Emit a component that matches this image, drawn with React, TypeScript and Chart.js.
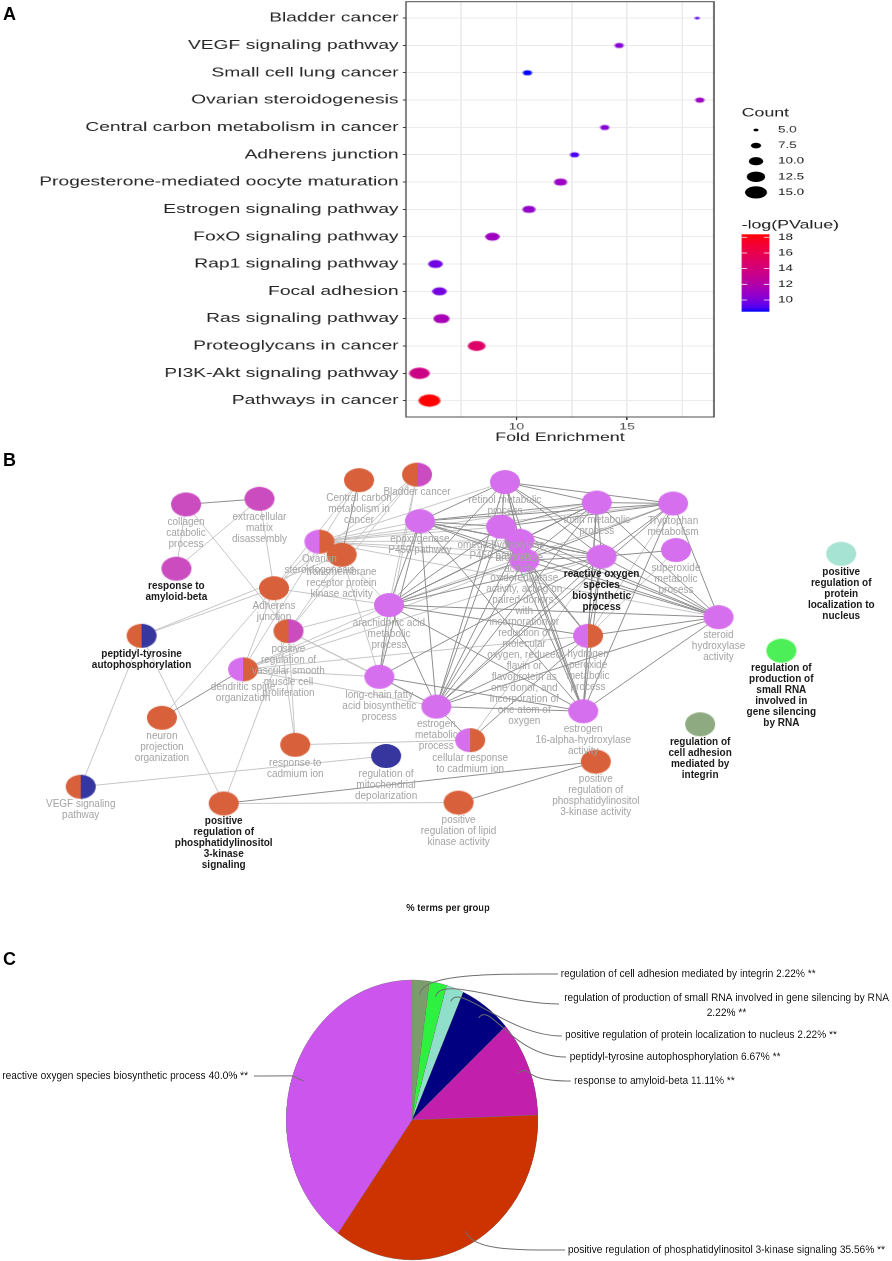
import React, { useEffect, useRef } from 'react';
import { Chart, registerables } from 'chart.js';

Chart.register(...registerables);
Chart.defaults.font.family = '"Liberation Sans", Arial, Helvetica, sans-serif';

// ---------------- Panel A data (KEGG bubble chart) ----------------
const pathways = [
  'Bladder cancer',
  'VEGF signaling pathway',
  'Small cell lung cancer',
  'Ovarian steroidogenesis',
  'Central carbon metabolism in cancer',
  'Adherens junction',
  'Progesterone-mediated oocyte maturation',
  'Estrogen signaling pathway',
  'FoxO signaling pathway',
  'Rap1 signaling pathway',
  'Focal adhesion',
  'Ras signaling pathway',
  'Proteoglycans in cancer',
  'PI3K-Akt signaling pathway',
  'Pathways in cancer',
];
const foldEnrichment = [18.16, 14.64, 10.5, 18.28, 13.99, 12.63, 12.0, 10.57, 8.92, 6.35, 6.53, 6.62, 8.21, 5.63, 6.08];
const geneCount = [5, 7, 7, 7, 7, 7, 9, 9, 10, 10, 10, 11, 12, 14, 15];
const negLogP = [9.1, 10.3, 8.51, 11.0, 10.2, 9.0, 11.0, 10.7, 11.1, 9.7, 9.8, 11.5, 14.9, 13.6, 18.38];
const countBreaks = [5, 7.5, 10, 12.5, 15];
const pBreaks = [10, 12, 14, 16, 18];
const xAxisBreaks = [10, 15];

// ---------------- Panel B data (ClueGO network) ----------------
const termLabels = [
  'collagen\ncatabolic\nprocess',
  'extracellular\nmatrix\ndisassembly',
  'response to\namyloid-beta',
  'Central carbon\nmetabolism in\ncancer',
  'Bladder cancer',
  'Ovarian\nsteroidogenesis',
  'transmembrane\nreceptor protein\nkinase activity',
  'Adherens\njunction',
  'peptidyl-tyrosine\nautophosphorylation',
  'positive\nregulation of\nvascular smooth\nmuscle cell\nproliferation',
  'dendritic spine\norganization',
  'epoxygenase\nP450 pathway',
  'arachidonic acid\nmetabolic\nprocess',
  'retinol metabolic\nprocess',
  'omega-hydroxylase\nP450 pathway',
  'aromatase\nactivity',
  'oxidoreductase\nactivity, acting on\npaired donors,\nwith\nincorporation or\nreduction of\nmolecular\noxygen, reduced\nflavin or\nflavoprotein as\none donor, and\nincorporation of\none atom of\noxygen',
  'toxin metabolic\nprocess',
  'Tryptophan\nmetabolism',
  'reactive oxygen\nspecies\nbiosynthetic\nprocess',
  'superoxide\nmetabolic\nprocess',
  'positive\nregulation of\nprotein\nlocalization to\nnucleus',
  'steroid\nhydroxylase\nactivity',
  'hydrogen\nperoxide\nmetabolic\nprocess',
  'regulation of\nproduction of\nsmall RNA\ninvolved in\ngene silencing\nby RNA',
  'long-chain fatty\nacid biosynthetic\nprocess',
  'estrogen\nmetabolic\nprocess',
  'estrogen\n16-alpha-hydroxylase\nactivity',
  'cellular response\nto cadmium ion',
  'response to\ncadmium ion',
  'regulation of\nmitochondrial\ndepolarization',
  'positive\nregulation of\nphosphatidylinositol\n3-kinase activity',
  'positive\nregulation of lipid\nkinase activity',
  'neuron\nprojection\norganization',
  'VEGF signaling\npathway',
  'positive\nregulation of\nphosphatidylinositol\n3-kinase\nsignaling',
  'regulation of\ncell adhesion\nmediated by\nintegrin',
];
// layout coordinates of the network (x: 0..892, y: 440..880)
const termX = [177, 253, 167, 356, 416, 315, 338, 268, 131, 283, 236, 419, 387, 507, 503, 522, 527, 602, 681, 607, 684, 855, 728, 593, 793, 377, 436, 588, 471, 290, 384, 601, 459, 152, 68, 216, 709];
const termY = [493, 487, 562, 467, 461, 533, 547, 583, 634, 629, 670, 511, 601, 469, 517, 532, 553, 491, 492, 549, 542, 546, 614, 634, 650, 678, 710, 715, 746, 751, 763, 769, 813, 722, 796, 814, 729];
const termGroups = [
  ['amy'], ['amy'], ['amy'], ['pi3k'], ['pi3k', 'amy'], ['ros', 'pi3k'], ['pi3k'], ['pi3k'], ['pi3k', 'pep'], ['pi3k', 'amy'],
  ['ros', 'pi3k'], ['ros'], ['ros'], ['ros'], ['ros'], ['ros'], ['ros'], ['ros'], ['ros'], ['ros'],
  ['ros'], ['nuc'], ['ros'], ['ros', 'pi3k'], ['rna'], ['ros'], ['ros'], ['ros'], ['ros', 'pi3k'], ['pi3k'],
  ['pep'], ['pi3k'], ['pi3k'], ['pi3k'], ['pi3k', 'pep'], ['pi3k'], ['int'],
];
const leadingTerms = [2, 8, 19, 21, 24, 35, 36];
const strongEdges = [
  [11, 12], [11, 13], [11, 14], [11, 15], [11, 16], [11, 17], [11, 18], [11, 19], [11, 22], [11, 26], [11, 27], [11, 25],
  [12, 13], [12, 14], [12, 15], [12, 16], [12, 17], [12, 19], [12, 22], [12, 23], [12, 25], [12, 26], [12, 27],
  [13, 14], [13, 15], [13, 16], [13, 17], [13, 18], [13, 19], [13, 22], [13, 26], [13, 27],
  [14, 15], [14, 16], [14, 17], [14, 18], [14, 19], [14, 22], [14, 23], [14, 26], [14, 27],
  [15, 16], [15, 17], [15, 19], [15, 22], [15, 26], [15, 27],
  [16, 17], [16, 18], [16, 19], [16, 22], [16, 23], [16, 26], [16, 27],
  [17, 18], [17, 19], [17, 22], [17, 23], [17, 26], [17, 27],
  [18, 19], [18, 22], [18, 26], [18, 27],
  [19, 20], [19, 22], [19, 23], [19, 26], [19, 27],
  [22, 23], [22, 26], [22, 27], [23, 26], [23, 27], [23, 28],
  [25, 26], [25, 27], [25, 19], [26, 27], [26, 28],
  [0, 1], [3, 6], [10, 33], [35, 31], [32, 31],
];
const weakEdges = [
  [0, 2], [1, 2], [0, 9], [1, 7], [3, 7], [4, 7], [4, 6], [4, 9], [4, 12], [4, 25], [5, 7], [5, 11], [5, 13], [5, 14],
  [5, 16], [5, 19], [5, 22], [5, 15], [5, 17], [5, 18], [6, 8], [7, 8], [7, 10], [7, 29], [9, 35], [9, 29], [9, 6],
  [10, 12], [10, 16], [10, 19], [10, 23], [10, 25], [10, 26], [8, 35], [8, 34], [34, 30], [35, 32], [29, 28], [3, 10],
  [12, 18], [18, 23], [20, 23], [28, 19], [33, 7], [9, 12], [9, 25], [9, 26], [6, 12], [7, 12], [6, 25],
];

// ---------------- Panel C data (% terms per group) ----------------
const groupNames = [
  'regulation of cell adhesion mediated by integrin',
  'regulation of production of small RNA involved in gene silencing by RNA',
  'positive regulation of protein localization to nucleus',
  'peptidyl-tyrosine autophosphorylation',
  'response to amyloid-beta',
  'positive regulation of phosphatidylinositol 3-kinase signaling',
  'reactive oxygen species biosynthetic process',
];
const groupPercent = [2.22, 2.22, 2.22, 6.67, 11.11, 35.56, 40.0];
const groupPercentText = ['2.22', '2.22', '2.22', '6.67', '11.11', '35.56', '40.0'];

// ---------------- styles ----------------
const FONT = '"Liberation Sans", Arial, Helvetica, sans-serif';
const netColors: Record<string, string> = {
  pi3k: '#D8603A', ros: '#D66FEE', amy: '#CB4CBF', pep: '#36369E', nuc: '#A6E3D3', rna: '#4CEF57', int: '#8DAA80',
};
const pieColors = ['#7B9D6B', '#2EF03E', '#8FDFCB', '#000080', '#C21FAC', '#CC3300', '#CC55EE'];

// Lab colour interpolation (ggplot-like gradient)
function srgbToLin(c: number) { c /= 255; return c <= 0.04045 ? c / 12.92 : Math.pow((c + 0.055) / 1.055, 2.4); }
function linToSrgb(c: number) { const v = c <= 0.0031308 ? 12.92 * c : 1.055 * Math.pow(Math.max(c, 0), 1 / 2.4) - 0.055; return Math.round(Math.min(1, Math.max(0, v)) * 255); }
const WX = 0.95047, WY = 1, WZ = 1.08883;
function rgbToLab(r: number, g: number, b: number) {
  const R = srgbToLin(r), G = srgbToLin(g), B = srgbToLin(b);
  const X = (0.4124564 * R + 0.3575761 * G + 0.1804375 * B) / WX;
  const Y = (0.2126729 * R + 0.7151522 * G + 0.072175 * B) / WY;
  const Z = (0.0193339 * R + 0.119192 * G + 0.9503041 * B) / WZ;
  const f = (t: number) => (t > 216 / 24389 ? Math.cbrt(t) : (24389 / 27 * t + 16) / 116);
  const fx = f(X), fy = f(Y), fz = f(Z);
  return [116 * fy - 16, 500 * (fx - fy), 200 * (fy - fz)];
}
function labToRgb(L: number, a: number, b: number) {
  const fy = (L + 16) / 116, fx = fy + a / 500, fz = fy - b / 200;
  const finv = (t: number) => (t * t * t > 216 / 24389 ? t * t * t : (116 * t - 16) / (24389 / 27));
  const X = finv(fx) * WX, Y = finv(fy) * WY, Z = finv(fz) * WZ;
  const R = 3.2404542 * X - 1.5371385 * Y - 0.4985314 * Z;
  const G = -0.969266 * X + 1.8760108 * Y + 0.041556 * Z;
  const B = 0.0556434 * X - 0.2040259 * Y + 1.0572252 * Z;
  return [linToSrgb(R), linToSrgb(G), linToSrgb(B)];
}
const LAB_LOW = rgbToLab(0, 0, 255);
const LAB_HIGH = rgbToLab(255, 0, 0);
function gradColor(v: number, lo: number, hi: number) {
  const t = Math.min(1, Math.max(0, (v - lo) / (hi - lo)));
  const [r, g, b] = labToRgb(
    LAB_LOW[0] + (LAB_HIGH[0] - LAB_LOW[0]) * t,
    LAB_LOW[1] + (LAB_HIGH[1] - LAB_LOW[1]) * t,
    LAB_LOW[2] + (LAB_HIGH[2] - LAB_LOW[2]) * t,
  );
  return `rgb(${r},${g},${b})`;
}

function makeEllipse(w: number, h: number, colors: string[]) {
  const cw = Math.ceil(w) + 2, ch = Math.ceil(h) + 2;
  const c = document.createElement('canvas');
  c.width = cw; c.height = ch;
  const g = c.getContext('2d') as CanvasRenderingContext2D;
  g.beginPath();
  g.ellipse(cw / 2, ch / 2, w / 2, h / 2, 0, 0, Math.PI * 2);
  if (colors.length === 1) { g.fillStyle = colors[0]; g.fill(); }
  else {
    g.save(); g.clip();
    g.fillStyle = colors[0]; g.fillRect(0, 0, cw / 2, ch);
    g.fillStyle = colors[1]; g.fillRect(cw / 2, 0, cw / 2 + 1, ch);
    g.restore();
  }
  return c;
}

// ---------------- Panel A ----------------
const SX_A = 1.48;
const A_W = 600, A_H = 445;
const A_LEFT = 274.3, A_RIGHT = 482.4, A_TOP = 1.7, A_AXIS_H = 28;

function dotWidth(c: number, cMin: number, cMax: number) {
  const s = 1 + 5 * (Math.sqrt(c) - Math.sqrt(cMin)) / (Math.sqrt(cMax) - Math.sqrt(cMin));
  return 4.9 + 3.4 * (s - 1);
}

function PanelA() {
  const ref = useRef<HTMLCanvasElement>(null);
  useEffect(() => {
    const pMin = Math.min(...negLogP), pMax = Math.max(...negLogP);
    const cMin = Math.min(...geneCount), cMax = Math.max(...geneCount);
    const imgs = geneCount.map((c, i) => {
      const w = dotWidth(c, cMin, cMax);
      return makeEllipse(w / SX_A, w * 0.56, [gradColor(negLogP[i], pMin, pMax)]);
    });
    const frame = {
      id: 'frameA',
      afterDatasetsDraw(chart: any) {
        const { left, top, right, bottom } = chart.chartArea;
        const ctx = chart.ctx;
        ctx.save();
        ctx.strokeStyle = '#4D4D4D';
        ctx.lineWidth = 1;
        ctx.strokeRect(left, top, right - left, bottom - top);
        ctx.restore();
      },
    };
    const legend = {
      id: 'legendA',
      afterDraw(chart: any) {
        const ctx = chart.ctx;
        const legX = 501.1, keyX = 510.8, labX = 525.7;
        ctx.save();
        ctx.textBaseline = 'middle';
        ctx.textAlign = 'left';
        ctx.fillStyle = '#1A1A1A';
        ctx.font = `12px ${FONT}`;
        ctx.fillText('Count', legX, 113);
        countBreaks.forEach((c, k) => {
          const y = 130 + k * 15.6;
          const w = dotWidth(c, cMin, cMax);
          ctx.beginPath();
          ctx.ellipse(keyX, y, w / SX_A / 2, w * 0.56 / 2, 0, 0, Math.PI * 2);
          ctx.fillStyle = '#000';
          ctx.fill();
          ctx.fillStyle = '#1A1A1A';
          ctx.font = `9px ${FONT}`;
          ctx.fillText(c.toFixed(1), labX, y);
        });
        ctx.font = `12px ${FONT}`;
        ctx.fillText('-log(PValue)', legX, 225);
        const barTop = 234.3, barBot = 311.7, barW = 18.7;
        const grad = ctx.createLinearGradient(0, barBot, 0, barTop);
        for (let k = 0; k <= 20; k++) grad.addColorStop(k / 20, gradColor(pMin + (pMax - pMin) * k / 20, pMin, pMax));
        ctx.fillStyle = grad;
        ctx.fillRect(legX, barTop, barW, barBot - barTop);
        ctx.strokeStyle = '#FFFFFF';
        ctx.lineWidth = 0.8;
        ctx.font = `9px ${FONT}`;
        pBreaks.forEach((v) => {
          const y = barBot - (v - pMin) / (pMax - pMin) * (barBot - barTop);
          ctx.beginPath();
          ctx.moveTo(legX, y); ctx.lineTo(legX + 3.7, y);
          ctx.moveTo(legX + barW - 3.7, y); ctx.lineTo(legX + barW, y);
          ctx.stroke();
          ctx.fillStyle = '#1A1A1A';
          ctx.fillText(String(v), labX, y);
        });
        ctx.restore();
      },
    };
    const chart = new Chart(ref.current as HTMLCanvasElement, {
      type: 'scatter',
      data: {
        datasets: [{
          data: foldEnrichment.map((x, i) => ({ x, y: i + 1 })),
          pointStyle: (c: any) => imgs[c.dataIndex],
          pointRadius: (c: any) => (imgs[c.dataIndex] ? imgs[c.dataIndex].width / 2 : 3),
          pointHoverRadius: (c: any) => (imgs[c.dataIndex] ? imgs[c.dataIndex].width / 2 : 3),
          pointBorderWidth: 0,
        }],
      },
      options: {
        animation: false,
        responsive: false,
        devicePixelRatio: 2,
        events: [],
        layout: { autoPadding: false, padding: { left: 0, right: A_W - A_RIGHT, top: A_TOP, bottom: 0 } },
        plugins: { legend: { display: false }, tooltip: { enabled: false } },
        scales: {
          x: {
            type: 'linear', min: 5.02, max: 18.92,
            afterFit: (s: any) => { s.height = A_AXIS_H; s.paddingLeft = 0; s.paddingRight = 0; s.paddingTop = 0; s.paddingBottom = 0; },
            border: { display: false },
            grid: {
              color: '#EBEBEB', lineWidth: 1, drawTicks: true, tickLength: 3,
              tickColor: (c: any) => (c.tick && xAxisBreaks.includes(c.tick.value) ? '#333333' : 'rgba(0,0,0,0)'),
            },
            ticks: {
              stepSize: 2.5, includeBounds: false, autoSkip: false, maxRotation: 0, padding: 1,
              color: '#4D4D4D', font: { size: 9.5 },
              callback: (v: any) => (xAxisBreaks.includes(v) ? String(v) : ''),
            },
            title: { display: true, text: 'Fold Enrichment', color: '#1A1A1A', font: { size: 12 }, padding: { top: 0, bottom: 0 } },
          },
          y: {
            type: 'linear', reverse: true, min: 0.4, max: pathways.length + 0.6,
            afterFit: (s: any) => { s.width = A_LEFT; s.paddingTop = 0; s.paddingBottom = 0; s.paddingLeft = 0; s.paddingRight = 0; },
            border: { display: false },
            grid: { color: '#EBEBEB', lineWidth: 1, drawTicks: true, tickLength: 2, tickColor: '#333333' },
            ticks: {
              stepSize: 1, includeBounds: false, autoSkip: false, padding: 3,
              color: '#262626', font: { size: 13 },
              callback: (v: any) => pathways[v - 1] ?? '',
            },
          },
        },
      } as any,
      plugins: [frame, legend],
    });
    return () => chart.destroy();
  }, []);
  return (
    <div style={{ position: 'absolute', left: 0, top: 0, width: A_W, height: A_H, transform: `scaleX(${SX_A})`, transformOrigin: '0 0' }}>
      <canvas ref={ref} width={A_W} height={A_H} />
    </div>
  );
}

// ---------------- Panel B ----------------
const B_TOP = 440, B_W = 892, B_H = 440;

function PanelB() {
  const ref = useRef<HTMLCanvasElement>(null);
  useEffect(() => {
    const imgs = termGroups.map((g) => makeEllipse(30, 24, g.map((k) => netColors[k])));
    const edgePts = (list: number[][]) => {
      const pts: any[] = [];
      list.forEach(([a, b]) => {
        pts.push({ x: termX[a], y: termY[a] }, { x: termX[b], y: termY[b] }, { x: NaN, y: NaN });
      });
      return pts;
    };
    const labels = {
      id: 'netLabels',
      afterDatasetsDraw(chart: any) {
        const ctx = chart.ctx;
        const meta = chart.getDatasetMeta(2);
        ctx.save();
        ctx.textAlign = 'center';
        ctx.textBaseline = 'middle';
        meta.data.forEach((pt: any, i: number) => {
          const bold = leadingTerms.includes(i);
          ctx.font = `${bold ? 'bold ' : ''}10px ${FONT}`;
          ctx.fillStyle = bold ? '#1A1A1A' : '#A4A4A4';
          termLabels[i].split('\n').forEach((line, k) => {
            ctx.fillText(line, pt.x, pt.y + 18 + k * 11);
          });
        });
        ctx.restore();
      },
    };
    const chart = new Chart(ref.current as HTMLCanvasElement, {
      type: 'scatter',
      data: {
        datasets: [
          { data: edgePts(weakEdges), showLine: true, spanGaps: false, borderColor: '#C6C6C6', borderWidth: 1, pointRadius: 0, order: 2 },
          { data: edgePts(strongEdges), showLine: true, spanGaps: false, borderColor: '#8E8E8E', borderWidth: 1, pointRadius: 0, order: 1 },
          {
            data: termX.map((x, i) => ({ x, y: termY[i] })),
            pointStyle: (c: any) => imgs[c.dataIndex],
            pointRadius: 15, pointHoverRadius: 15, pointBorderWidth: 0, order: 0,
          },
        ],
      },
      options: {
        animation: false,
        responsive: false,
        events: [],
        layout: { padding: 0 },
        plugins: { legend: { display: false }, tooltip: { enabled: false } },
        scales: {
          x: { type: 'linear', display: false, min: 0, max: B_W },
          y: { type: 'linear', display: false, min: B_TOP, max: B_TOP + B_H, reverse: true },
        },
      } as any,
      plugins: [labels],
    });
    return () => chart.destroy();
  }, []);
  return (
    <div style={{ position: 'absolute', left: 0, top: B_TOP, width: B_W, height: B_H }}>
      <canvas ref={ref} width={B_W} height={B_H} />
    </div>
  );
}

// ---------------- Panel C ----------------
const SX_C = 0.9;
const C_TOP = 890, C_W = 991, C_H = 371;
const C_CX = 457.8, C_CY = 230, C_R = 140;
// label placement: leader end (lx, ly), text start (tx, ty), side
const pieLabelLayout = [
  { lx: 620, ly: 84, tx: 623, ty: 84, side: 1 },
  { lx: 621, ly: 114, tx: 626.7, ty: 108, side: 1 },
  { lx: 624, ly: 146, tx: 627.8, ty: 145, side: 1 },
  { lx: 629, ly: 167, tx: 633, ty: 167, side: 1 },
  { lx: 634, ly: 191, tx: 637.8, ty: 191, side: 1 },
  { lx: 628, ly: 360, tx: 631, ty: 360, side: 1 },
  { lx: 282, ly: 186, tx: 275.6, ty: 186, side: -1 },
];

function PanelC() {
  const ref = useRef<HTMLCanvasElement>(null);
  useEffect(() => {
    const labelPlugin = {
      id: 'pieLabels',
      afterDatasetsDraw(chart: any) {
        const ctx = chart.ctx;
        const meta = chart.getDatasetMeta(0);
        ctx.save();
        ctx.font = `bold 10.5px ${FONT}`;
        ctx.fillStyle = '#1A1A1A';
        ctx.textAlign = 'center';
        ctx.textBaseline = 'middle';
        ctx.fillText('% terms per group', 497.8, 18);
        meta.data.forEach((arc: any, i: number) => {
          const { x, y, startAngle, endAngle, outerRadius } = arc.getProps(['x', 'y', 'startAngle', 'endAngle', 'outerRadius'], true);
          const mid = (startAngle + endAngle) / 2;
          const ax = x + Math.cos(mid) * outerRadius * 0.9;
          const ay = y + Math.sin(mid) * outerRadius * 0.9;
          const L = pieLabelLayout[i];
          ctx.beginPath();
          ctx.moveTo(ax, ay);
          ctx.bezierCurveTo(ax + Math.cos(mid) * 22, ay + Math.sin(mid) * 22, L.lx - 60 * L.side, L.ly, L.lx, L.ly);
          ctx.strokeStyle = '#6E6E6E';
          ctx.lineWidth = 1;
          ctx.stroke();
          ctx.fillStyle = '#1A1A1A';
          ctx.font = `11.3px ${FONT}`;
          const full = `${groupNames[i]} ${groupPercentText[i]}% **`;
          if (i === 1) {
            const first = groupNames[i];
            const w = ctx.measureText(first).width;
            ctx.textAlign = 'left';
            ctx.fillText(first, L.tx, L.ty);
            ctx.textAlign = 'center';
            ctx.fillText(`${groupPercentText[i]}% **`, L.tx + w / 2, L.ty + 15);
          } else {
            ctx.textAlign = L.side > 0 ? 'left' : 'right';
            ctx.fillText(full, L.tx, L.ty);
          }
        });
        ctx.restore();
      },
    };
    const chart = new Chart(ref.current as HTMLCanvasElement, {
      type: 'pie',
      data: {
        labels: groupNames,
        datasets: [{
          data: groupPercent,
          backgroundColor: pieColors,
          borderColor: 'rgba(110,110,110,0.7)',
          borderWidth: 0.5,
          radius: C_R,
          clip: false,
        }],
      },
      options: {
        animation: false,
        responsive: false,
        devicePixelRatio: 2,
        events: [],
        radius: C_R,
        layout: { padding: { left: C_CX - C_R, right: C_W - C_CX - C_R, top: C_CY - C_R, bottom: C_H - C_CY - C_R } },
        plugins: { legend: { display: false }, tooltip: { enabled: false } },
      } as any,
      plugins: [labelPlugin],
    });
    return () => chart.destroy();
  }, []);
  return (
    <div style={{ position: 'absolute', left: 0, top: C_TOP, width: C_W, height: C_H, transform: `scaleX(${SX_C})`, transformOrigin: '0 0' }}>
      <canvas ref={ref} width={C_W} height={C_H} />
    </div>
  );
}

const letterStyle = (top: number): React.CSSProperties => ({
  position: 'absolute', left: 3, top, font: `bold 18px ${FONT}`, lineHeight: 1, color: '#000',
});

export default function App() {
  return (
    <div style={{ position: 'absolute', left: 0, top: 0, width: 892, height: 1261, background: '#FFFFFF', overflow: 'hidden', fontFamily: FONT }}>
      <PanelA />
      <PanelB />
      <PanelC />
      <div style={letterStyle(4.7)}>A</div>
      <div style={letterStyle(450.7)}>B</div>
      <div style={letterStyle(949.7)}>C</div>
    </div>
  );
}
